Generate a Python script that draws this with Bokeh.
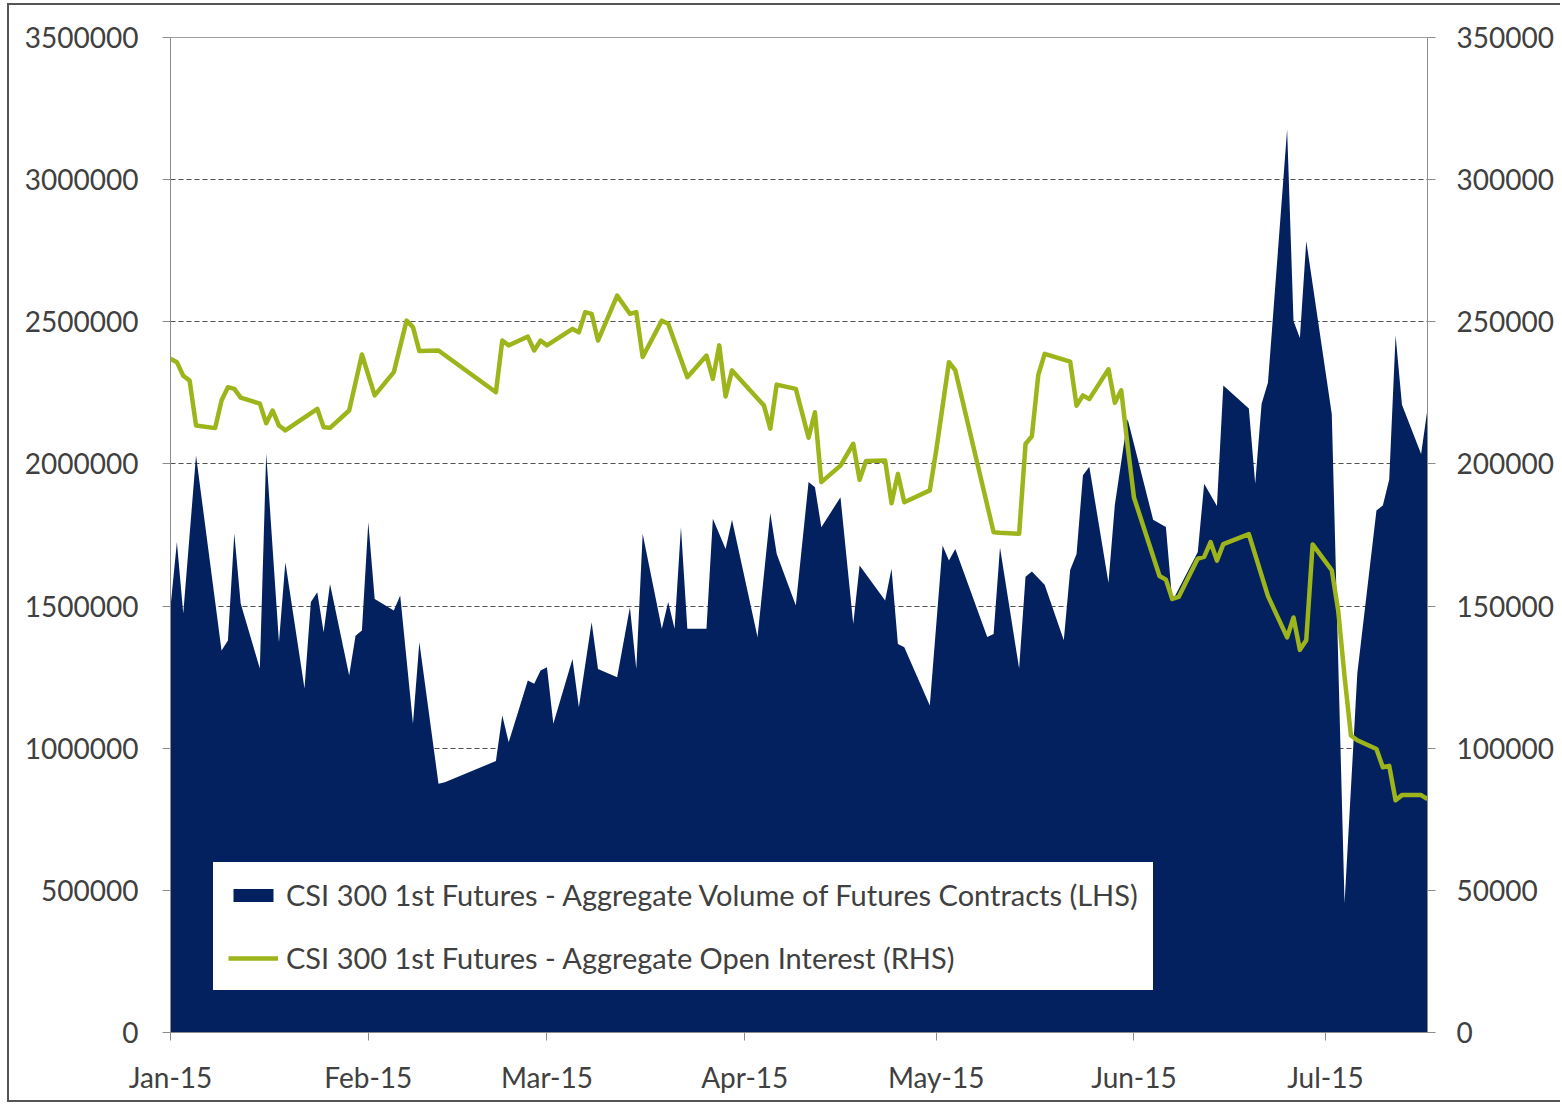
import pandas as pd
from bokeh.plotting import figure
from bokeh.models import (Range1d, LinearAxis, FixedTicker, DatetimeTickFormatter,
                          BasicTickFormatter, Legend, LegendItem, SingleIntervalTicker)
from bokeh.embed import file_html
from bokeh.resources import INLINE

# ---- data ----
vol_dates = [
    "2015-01-05", "2015-01-06", "2015-01-07", "2015-01-09", "2015-01-13", "2015-01-14",
    "2015-01-15", "2015-01-16", "2015-01-19", "2015-01-20", "2015-01-22", "2015-01-23",
    "2015-01-26", "2015-01-27", "2015-01-28", "2015-01-29", "2015-01-30", "2015-02-02",
    "2015-02-03", "2015-02-04", "2015-02-05", "2015-02-06", "2015-02-09", "2015-02-10",
    "2015-02-12", "2015-02-13", "2015-02-16", "2015-02-17", "2015-02-25", "2015-02-26",
    "2015-02-27", "2015-03-02", "2015-03-03", "2015-03-04", "2015-03-05", "2015-03-06",
    "2015-03-09", "2015-03-10", "2015-03-12", "2015-03-13", "2015-03-16", "2015-03-18",
    "2015-03-19", "2015-03-20", "2015-03-23", "2015-03-24", "2015-03-25", "2015-03-26",
    "2015-03-27", "2015-03-30", "2015-03-31", "2015-04-02", "2015-04-03", "2015-04-07",
    "2015-04-09", "2015-04-10", "2015-04-13", "2015-04-15", "2015-04-16", "2015-04-17",
    "2015-04-20", "2015-04-22", "2015-04-23", "2015-04-27", "2015-04-28", "2015-04-29",
    "2015-04-30", "2015-05-04", "2015-05-06", "2015-05-07", "2015-05-08", "2015-05-13",
    "2015-05-14", "2015-05-15", "2015-05-18", "2015-05-19", "2015-05-20", "2015-05-22",
    "2015-05-25", "2015-05-26", "2015-05-27", "2015-05-28", "2015-05-29", "2015-06-01",
    "2015-06-02", "2015-06-04", "2015-06-08", "2015-06-10", "2015-06-11", "2015-06-15",
    "2015-06-16", "2015-06-18", "2015-06-19", "2015-06-23", "2015-06-24", "2015-06-25",
    "2015-06-26", "2015-06-29", "2015-06-30", "2015-07-01", "2015-07-02", "2015-07-06",
    "2015-07-08", "2015-07-10", "2015-07-13", "2015-07-14", "2015-07-15", "2015-07-16",
    "2015-07-17", "2015-07-20", "2015-07-21",
]
vol_values = [
    1496000, 1725000, 1474000, 2030000, 1344000, 1379000,
    1755000, 1509000, 1280000, 2037000, 1373000, 1654000,
    1210000, 1514000, 1549000, 1408000, 1578000, 1256000,
    1396000, 1414000, 1795000, 1525000, 1484000, 1537000,
    1086000, 1373000, 875000, 880000, 955000, 1115000,
    1021000, 1238000, 1227000, 1273000, 1285000, 1086000,
    1314000, 1144000, 1443000, 1279000, 1250000, 1496000,
    1279000, 1754000, 1420000, 1514000, 1420000, 1777000,
    1420000, 1420000, 1807000, 1701000, 1804000, 1391000,
    1827000, 1684000, 1502000, 1936000, 1918000, 1777000,
    1883000, 1437000, 1643000, 1520000, 1631000, 1367000,
    1355000, 1150000, 1713000, 1660000, 1701000, 1391000,
    1402000, 1706000, 1280000, 1603000, 1622000, 1575000,
    1380000, 1627000, 1683000, 1960000, 1990000, 1582000,
    1856000, 2158000, 1804000, 1778000, 1517000, 1690000,
    1930000, 1852000, 2276000, 2195000, 1930000, 2212000,
    2286000, 3177000, 2503000, 2443000, 2784000, 2175000,
    455000, 1263000, 1836000, 1854000, 1945000, 2452000,
    2208000, 2035000, 2194000,
]

oi_dates = [
    "2015-01-05", "2015-01-06", "2015-01-07", "2015-01-08", "2015-01-09", "2015-01-12",
    "2015-01-13", "2015-01-14", "2015-01-15", "2015-01-16", "2015-01-19", "2015-01-20",
    "2015-01-21", "2015-01-22", "2015-01-23", "2015-01-28", "2015-01-29", "2015-01-30",
    "2015-02-02", "2015-02-04", "2015-02-06", "2015-02-09", "2015-02-11", "2015-02-12",
    "2015-02-13", "2015-02-16", "2015-02-25", "2015-02-26", "2015-02-27", "2015-03-02",
    "2015-03-03", "2015-03-04", "2015-03-05", "2015-03-09", "2015-03-10", "2015-03-11",
    "2015-03-12", "2015-03-13", "2015-03-16", "2015-03-18", "2015-03-19", "2015-03-20",
    "2015-03-23", "2015-03-24", "2015-03-27", "2015-03-30", "2015-03-31", "2015-04-01",
    "2015-04-02", "2015-04-03", "2015-04-08", "2015-04-09", "2015-04-10", "2015-04-13",
    "2015-04-15", "2015-04-16", "2015-04-17", "2015-04-20", "2015-04-22", "2015-04-23",
    "2015-04-24", "2015-04-27", "2015-04-28", "2015-04-29", "2015-04-30", "2015-05-04",
    "2015-05-05", "2015-05-07", "2015-05-08", "2015-05-14", "2015-05-15", "2015-05-18",
    "2015-05-19", "2015-05-20", "2015-05-21", "2015-05-22", "2015-05-26", "2015-05-27",
    "2015-05-28", "2015-05-29", "2015-06-01", "2015-06-02", "2015-06-03", "2015-06-04",
    "2015-06-05", "2015-06-09", "2015-06-10", "2015-06-11", "2015-06-12", "2015-06-15",
    "2015-06-16", "2015-06-17", "2015-06-18", "2015-06-19", "2015-06-23", "2015-06-26",
    "2015-06-29", "2015-06-30", "2015-07-01", "2015-07-02", "2015-07-03", "2015-07-06",
    "2015-07-07", "2015-07-08", "2015-07-09", "2015-07-10", "2015-07-13", "2015-07-14",
    "2015-07-15", "2015-07-16", "2015-07-17", "2015-07-20", "2015-07-21",
]
oi_values = [
    237000, 235800, 231000, 229300, 213500, 212600,
    222300, 227000, 226400, 223300, 221200, 214300,
    218800, 213500, 211800, 219400, 212900, 212700,
    218800, 238500, 224100, 232300, 250400, 248100,
    239700, 239900, 225200, 243400, 241700, 244800,
    239900, 243400, 241700, 247500, 246300, 253400,
    252800, 243400, 259200, 252800, 253400, 237600,
    250400, 249300, 230500, 238100, 229900, 241700,
    223700, 232900, 220600, 212400, 227900, 226400,
    209200, 218200, 193600, 199400, 207100, 194400,
    201000, 201200, 186200, 196500, 186500, 190700,
    204700, 235800, 232900, 176000, 175800, 175400,
    207000, 209800, 231300, 238700, 236000, 220500,
    224100, 222800, 233300, 221500, 225900, 206400,
    188200, 160600, 159300, 152500, 153200, 166700,
    167300, 172500, 166000, 171800, 175300, 153500,
    139000, 146000, 134600, 138000, 171700, 162600,
    148500, 125200, 104500, 102800, 99700, 93300,
    93800, 81700, 83500, 83500, 82100,
]

month_ticks = ["2015-01-05", "2015-02-05", "2015-03-05", "2015-04-05",
               "2015-05-05", "2015-06-05", "2015-07-05"]

vol_label = "CSI 300 1st Futures - Aggregate Volume of Futures Contracts (LHS)"
oi_label = "CSI 300 1st Futures - Aggregate Open Interest (RHS)"

# ---- figure ----
vx = pd.to_datetime(vol_dates)
ox = pd.to_datetime(oi_dates)
tick_ms = [pd.Timestamp(t).value / 1e6 for t in month_ticks]

FONT = "Lato"
TXT = "#404040"
NAVY = "#03215F"
GREEN = "#9DB51A"

p = figure(width=1553, height=1099, x_axis_type="datetime",
           x_range=Range1d(pd.Timestamp("2015-01-05"), pd.Timestamp("2015-07-21")),
           y_range=Range1d(0, 3500000),
           output_backend="svg", toolbar_location=None,
           min_border_left=161, min_border_right=135, min_border_top=32,
           min_border_bottom=72)
p.extra_y_ranges = {"oi": Range1d(0, 350000)}
p.background_fill_color = "white"
p.border_fill_color = "white"
p.outline_line_color = "#A0A0A0"
p.outline_line_width = 1

area = p.varea(x=vx, y1=0, y2=vol_values, fill_color=NAVY)
line = p.line(x=ox, y=oi_values, y_range_name="oi", line_color=GREEN,
              line_width=4.5, line_join="round")

# axes
p.xaxis.ticker = FixedTicker(ticks=tick_ms)
p.xaxis.formatter = DatetimeTickFormatter(days="%b-%y", months="%b-%y", years="%b-%y",
                                          hours="%b-%y", minutes="%b-%y")
p.yaxis.ticker = SingleIntervalTicker(interval=500000, num_minor_ticks=0)
p.yaxis.formatter = BasicTickFormatter(use_scientific=False)

right = LinearAxis(y_range_name="oi",
                   ticker=SingleIntervalTicker(interval=50000, num_minor_ticks=0),
                   formatter=BasicTickFormatter(use_scientific=False))
p.add_layout(right, "right")

for ax in [p.xaxis[0], p.yaxis[0], right]:
    ax.axis_line_color = "#8C8C8C"
    ax.major_tick_line_color = "#8C8C8C"
    ax.major_tick_out = 8
    ax.major_tick_in = 0
    ax.minor_tick_line_color = None
    ax.major_label_text_font = FONT
    ax.major_label_text_font_size = "28px"
    ax.major_label_text_color = TXT
p.xaxis.major_label_standoff = 19
p.yaxis[0].major_label_standoff = 24
right.major_label_standoff = 21

p.xgrid.grid_line_color = None
p.ygrid.ticker = SingleIntervalTicker(interval=500000, num_minor_ticks=0)
p.ygrid.grid_line_color = "#505050"
p.ygrid.grid_line_dash = "5 3"
p.ygrid.grid_line_width = 1

legend = Legend(items=[LegendItem(label=vol_label, renderers=[area]),
                       LegendItem(label=oi_label, renderers=[line])],
                location=(43, 42))
legend.label_text_font = FONT
legend.label_text_font_size = "29px"
legend.label_text_color = TXT
legend.glyph_width = 50
legend.glyph_height = 16
legend.label_standoff = 8
legend.label_height = 30
legend.spacing = 28
legend.padding = 14
legend.margin = 0
legend.border_line_color = "white"
legend.border_line_width = 1
legend.background_fill_color = "white"
legend.background_fill_alpha = 1.0
p.add_layout(legend)

p.styles = {"margin-left": "7px", "margin-top": "3px",
            "border-left": "2px solid #555555", "border-top": "2px solid #555555",
            "border-bottom": "2px solid #555555"}

open("out.html", "w").write(file_html(p, INLINE))
